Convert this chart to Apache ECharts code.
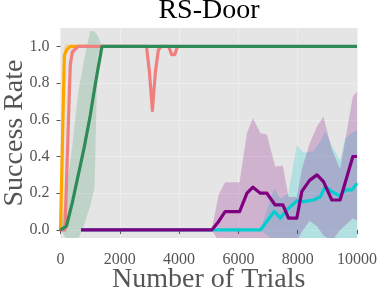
<!DOCTYPE html>
<html>
<head>
<meta charset="utf-8">
<script src="https://cdn.jsdelivr.net/npm/echarts@6/dist/echarts.min.js"></script>
<style>
html,body{margin:0;padding:0;background:#fff;}
#chart{width:379px;height:294px;}
</style>
</head>
<body>
<div id="chart"></div>
<script>
// ---- data ----
const titleText = 'RS-Door';
const xTicks = [0, 2000, 4000, 6000, 8000, 10000];
const yTicks = [0.0, 0.2, 0.4, 0.6, 0.8, 1.0];

const orangeX  = [0, 60, 130, 200, 330, 1000];
const orangeY  = [0, 0, 0.95, 0.98, 1.0, 1.0];
const orangeLo = [0, 0, 0.88, 0.95, 1.0, 1.0];
const orangeHi = [0, 0.1, 1.0, 1.015, 1.0, 1.0];

const salmonX  = [0, 150, 330, 400, 600, 2900, 3000, 3100, 3200, 3300, 3400, 3650, 3750, 3850, 3950, 4000];
const salmonY  = [0, 0, 0.9, 0.97, 1.0, 1.0, 0.86, 0.65, 0.86, 0.98, 1.0, 1.0, 0.955, 0.955, 1.0, 1.0];
const salmonLo = [0, 0, 0.8, 0.93, 1.0, 1.0, 0.86, 0.65, 0.86, 0.98, 1.0, 1.0, 0.955, 0.955, 1.0, 1.0];
const salmonHi = [0, 0.05, 0.97, 1.0, 1.0, 1.0, 0.86, 0.65, 0.86, 0.98, 1.0, 1.0, 0.955, 0.955, 1.0, 1.0];

const greenX  = [0, 200, 400, 600, 800, 1000, 1150, 1250, 1400, 10000];
const greenY  = [0, 0.02, 0.15, 0.30, 0.45, 0.62, 0.77, 0.865, 1.0, 1.0];
const greenLo = [0, -0.05, -0.06, -0.05, 0.03, 0.13, 0.23, 0.95, 1.0, 1.0];
const greenHi = [0, 0.22, 0.46, 0.75, 0.93, 1.085, 1.08, 1.06, 1.0, 1.0];

const cyanX  = [700, 6740, 7210, 7410, 7690, 7970, 8195, 8530, 8760, 8930, 9150, 9430, 9600, 9830, 10000];
const cyanY  = [0, 0, 0.10, 0.065, 0.118, 0.158, 0.154, 0.163, 0.18, 0.236, 0.209, 0.185, 0.218, 0.218, 0.255];
const cyanLo = [0, 0, -0.06, -0.06, -0.06, -0.06, -0.06, -0.06, -0.06, -0.06, -0.06, -0.06, -0.06, -0.06, -0.06];
const cyanHi = [0, 0, 0.23, 0.17, 0.2, 0.463, 0.42, 0.43, 0.48, 0.536, 0.46, 0.38, 0.5, 0.53, 0.545];

const purpleX  = [690, 5100, 5330, 5550, 6040, 6290, 6490, 6740, 6960, 7240, 7500, 7690, 7970, 8140, 8400, 8650, 8870, 9150, 9430, 9860, 10000];
const purpleY  = [0, 0, 0.045, 0.10, 0.10, 0.20, 0.233, 0.20, 0.20, 0.136, 0.136, 0.064, 0.064, 0.21, 0.27, 0.30, 0.263, 0.163, 0.163, 0.40, 0.40];
const purpleLo = [0, 0, -0.06, -0.06, -0.06, -0.06, -0.06, -0.06, -0.06, -0.06, -0.06, -0.06, -0.06, -0.01, 0.05, 0.02, -0.03, -0.06, 0.0, 0.064, 0.05];
const purpleHi = [0, 0, 0.19, 0.26, 0.26, 0.53, 0.61, 0.527, 0.52, 0.345, 0.35, 0.18, 0.18, 0.33, 0.47, 0.563, 0.617, 0.44, 0.33, 0.727, 0.754];

// ---- build series ----
const FONT = '"Liberation Serif", "Times New Roman", serif';
const zip = (xs, ys) => xs.map((x, i) => [x, ys[i]]);

function band(name, xs, lo, hi, color, opacity) {
  // one polygon per band: upper envelope forward, lower envelope backward
  const rows = xs.map((x, i) => [x, lo[i], hi[i]]);
  return {
    type: 'custom', name: name + '_band', silent: true, clip: true, z: 1,
    data: [[xs[0], lo[0], hi[0]]],
    encode: { x: 0, y: [1, 2] },
    renderItem: function (params, api) {
      const pts = [];
      for (let i = 0; i < rows.length; i++) pts.push(api.coord([rows[i][0], rows[i][2]]));
      for (let i = rows.length - 1; i >= 0; i--) pts.push(api.coord([rows[i][0], rows[i][1]]));
      const cs = params.coordSys;
      return {
        type: 'polygon',
        shape: { points: pts },
        clipPath: { type: 'rect', shape: { x: cs.x, y: cs.y, width: cs.width, height: cs.height } },
        style: { fill: color, opacity: opacity }
      };
    }
  };
}
function line(name, xs, ys, color, z) {
  return {
    type: 'line', name: name, data: zip(xs, ys), symbol: 'none', silent: true,
    lineStyle: { color: color, width: 3.2, join: 'round', cap: 'butt' }, z: z
  };
}

const series = [
  band('orange', orangeX, orangeLo, orangeHi, '#FFA500', 0.25),
  band('salmon', salmonX, salmonLo, salmonHi, '#F08080', 0.2),
  band('green', greenX, greenLo, greenHi, '#2E8B57', 0.2),
  band('cyan', cyanX, cyanLo, cyanHi, '#00CED1', 0.22),
  band('purple', purpleX, purpleLo, purpleHi, '#800080', 0.22),
  line('orange', orangeX, orangeY, '#FFA500', 3),
  line('salmon', salmonX, salmonY, '#F08080', 4),
  line('green', greenX, greenY, '#2E8B57', 5),
  line('cyan', cyanX, cyanY, '#00CED1', 6),
  line('purple', purpleX, purpleY, '#800080', 7)
];

const chart = echarts.init(document.getElementById('chart'), null, { renderer: 'canvas' });
chart.setOption({
  animation: false,
  backgroundColor: '#ffffff',
  graphic: [{
    type: 'text', x: 209, y: -3, z: 10,
    style: { text: titleText, textAlign: 'center', textVerticalAlign: 'top',
             font: '28px ' + FONT, fill: '#000000' }
  }],
  grid: {
    left: 60.5, right: 22, top: 28, bottom: 56,
    show: true, backgroundColor: '#E5E5E5', borderWidth: 0,
    outerBoundsMode: 'none'
  },
  xAxis: {
    type: 'value', min: 0, max: 10000, interval: 2000,
    name: 'Number of Trials', nameLocation: 'middle', nameGap: 28, nameMoveOverlap: false,
    nameTextStyle: { fontFamily: FONT, fontSize: 28, color: '#555555' },
    axisLine: { show: false },
    axisTick: { show: true, length: 4, lineStyle: { color: '#555555', width: 1 } },
    axisLabel: { fontFamily: FONT, fontSize: 16, color: '#555555', margin: 14,
                 formatter: v => String(v) },
    splitLine: { show: true, lineStyle: { color: '#EFEFEF', width: 0.8 } }
  },
  yAxis: {
    type: 'value', min: -0.044, max: 1.1,
    name: 'Success Rate', nameLocation: 'middle', nameGap: 32, nameRotate: 90, nameMoveOverlap: false,
    nameTextStyle: { fontFamily: FONT, fontSize: 28, color: '#555555' },
    axisLine: { show: false },
    axisTick: { show: true, length: 4, customValues: yTicks,
                lineStyle: { color: '#555555', width: 1 } },
    axisLabel: { fontFamily: FONT, fontSize: 16, color: '#555555', margin: 11,
                 customValues: yTicks, formatter: v => v.toFixed(1) },
    splitLine: { show: true, lineStyle: { color: '#EFEFEF', width: 0.8 } }
  },
  series: series
});
</script>
</body>
</html>
